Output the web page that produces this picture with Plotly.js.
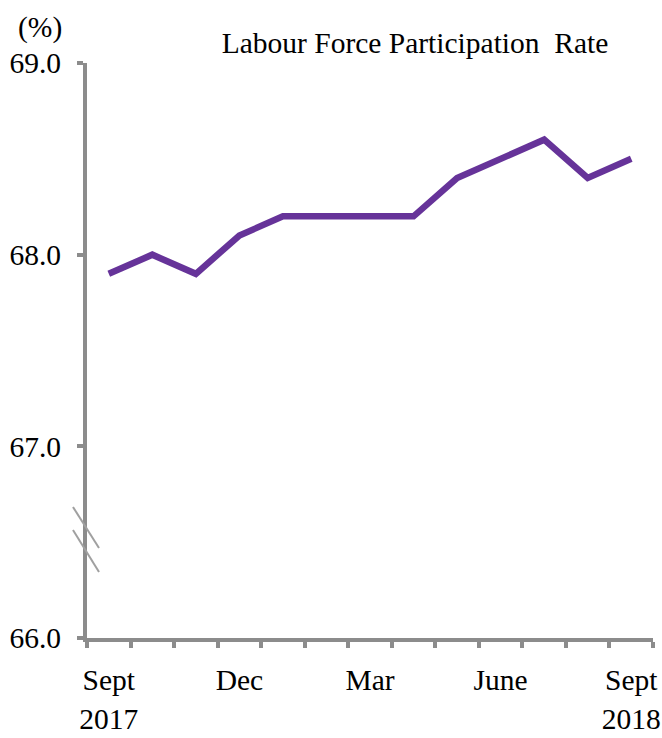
<!DOCTYPE html>
<html>
<head>
<meta charset="utf-8">
<script src="https://cdn.plot.ly/plotly-3.0.1.min.js"></script>
<style>html,body{margin:0;padding:0;background:#fff;}#chart{width:662px;height:738px;}</style>
</head>
<body>
<div id="chart"></div>
<script>
// Data
const months = ["Sep 2017","Oct 2017","Nov 2017","Dec 2017","Jan 2018","Feb 2018","Mar 2018","Apr 2018","May 2018","Jun 2018","Jul 2018","Aug 2018","Sep 2018"];
const participationRate = [67.9, 68.0, 67.9, 68.1, 68.2, 68.2, 68.2, 68.2, 68.4, 68.5, 68.6, 68.4, 68.5];
const xTickIndex = [0, 3, 6, 9, 12];
const xTickLabels = ["Sept<br>2017", "Dec", "Mar", "June", "Sept<br>2018"];
const yTickValues = [66, 67, 68, 69];
const titleText = "Labour Force Participation  Rate";
const unitLabel = "(%)";

const xIdx = months.map((m, i) => i);
const axisGrey = "#8c8c8c";
const font = {family: "Liberation Serif", size: 29.5, color: "#000"};

const W = 662, H = 738;
const L = 87, R = 653, T = 63, B = 638;
const px = v => (v - L) / (R - L);
const py = v => (B - v) / (B - T);

const trace = {
  x: xIdx,
  y: participationRate,
  text: months,
  type: "scatter",
  mode: "lines",
  line: {color: "#663399", width: 6.5},
  hoverinfo: "text+y"
};

const layout = {
  width: W, height: H,
  margin: {l: L, r: W - R, t: T, b: H - B},
  paper_bgcolor: "#fff", plot_bgcolor: "#fff",
  showlegend: false,
  font: font,
  title: {text: titleText, font: font, x: 415 / W, xanchor: "center", xref: "container", y: 1 - 43 / H, yanchor: "middle", yref: "container"},
  xaxis: {
    range: [-0.5, 12.5],
    tickmode: "array", tickvals: xTickIndex, ticktext: xTickLabels,
    ticks: "", showgrid: false, zeroline: false,
    showline: true, linecolor: axisGrey, linewidth: 4,
    tickfont: font, ticklabelstandoff: 13,
    minor: {tick0: -0.5, dtick: 1, ticks: "outside", ticklen: 6, tickwidth: 4, tickcolor: axisGrey, showgrid: false}
  },
  yaxis: {
    range: [66, 69],
    tickmode: "array", tickvals: yTickValues, tickformat: ".1f",
    ticks: "outside", ticklen: 6, tickwidth: 4, tickcolor: axisGrey,
    showgrid: false, zeroline: false,
    showline: true, linecolor: axisGrey, linewidth: 4,
    tickfont: font, ticklabelstandoff: 10
  },
  annotations: [{
    text: unitLabel, xref: "paper", yref: "paper",
    x: px(64), y: py(28), xanchor: "right", yanchor: "middle",
    showarrow: false, font: font
  }],
  shapes: [
    {type: "line", xref: "paper", yref: "paper", x0: px(73), y0: py(507), x1: px(99), y1: py(548), line: {color: "#a0a0a0", width: 2}},
    {type: "line", xref: "paper", yref: "paper", x0: px(73), y0: py(530), x1: px(99), y1: py(572), line: {color: "#a0a0a0", width: 2}}
  ]
};

Plotly.newPlot("chart", [trace], layout, {displayModeBar: false, staticPlot: true});
</script>
</body>
</html>
